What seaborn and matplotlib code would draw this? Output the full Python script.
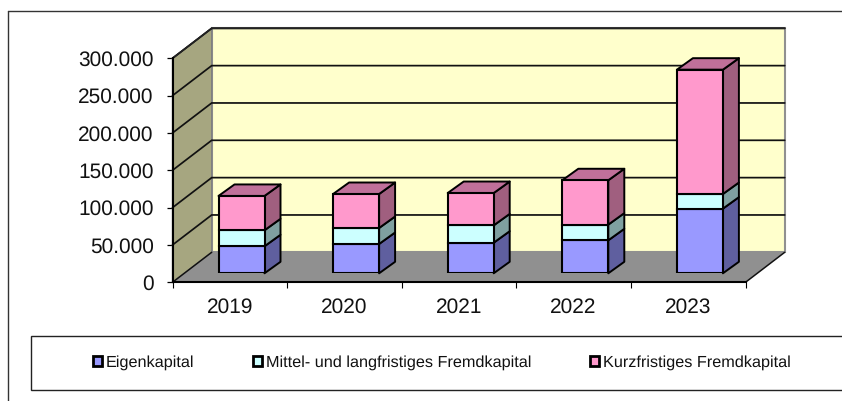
import matplotlib
matplotlib.use("Agg")
import matplotlib.pyplot as plt
from matplotlib.patches import Polygon, Rectangle
from matplotlib.lines import Line2D
from matplotlib.ticker import FuncFormatter
import seaborn as sns

years = ["2019", "2020", "2021", "2022", "2023"]
eigenkapital = [36200, 39300, 41000, 44200, 86600]
mittel_lang = [21400, 21400, 23200, 21000, 19600]
kurzfristig = [46000, 45500, 43300, 59400, 166500]
series_names = ["Eigenkapital", "Mittel- und langfristiges Fremdkapital", "Kurzfristiges Fremdkapital"]
y_ticks = [0, 50000, 100000, 150000, 200000, 250000, 300000]

W, H = 842, 401
sns.set_style("white")
plt.rcParams['font.family'] = ['Liberation Sans', 'DejaVu Sans']
plt.rcParams['text.hinting'] = 'no_hinting'

fig = plt.figure(figsize=(W / 100, H / 100), dpi=100, facecolor="white")

L, R, T, B = 172.5, 745.5, 58.3, 282.3
def rect(dx=0, dy=0):
    return [(L + dx) / W, 1 - (B - dy) / H, (R - L) / W, (B - T) / H]

ax = fig.add_axes(rect(), facecolor="none")
ax.set_xlim(-0.5, 4.5)
ax.set_ylim(0, 300000)
pxx = 1 / ((R - L) / 5)          # category units per pixel
pxy = 300000 / (B - T)           # value units per pixel
DX, DY = 39.2 * pxx, 30 * pxy    # depth of the chart box

x0, x1 = -0.5, 4.5
top = 300000
# walls
ax.add_patch(Polygon([(x0 + DX, DY), (x1 + DX, DY), (x1 + DX, top + DY), (x0 + DX, top + DY)],
                     closed=True, fc="#FFFFCC", ec="#909090", lw=1.5, clip_on=False, zorder=1))
ax.add_patch(Polygon([(x0, 0), (x0 + DX, DY), (x0 + DX, top + DY), (x0, top)],
                     closed=True, fc="#A6A680", ec="#808080", lw=1.0, clip_on=False, zorder=1))
ax.add_patch(Polygon([(x0, 0), (x1, 0), (x1 + DX, DY), (x0 + DX, DY)],
                     closed=True, fc="#909090", ec="none", clip_on=False, zorder=1))
# gridlines
for v in y_ticks:
    if v == 0:
        ax.plot([x0, x0 + DX], [0, DY], color="#111111", lw=1.1, clip_on=False, zorder=2)
        continue
    ax.plot([x0, x0 + DX, x1 + DX], [v, v + DY, v + DY], color="#111111", lw=1.25,
            clip_on=False, zorder=2, solid_joinstyle="miter")
ax.plot([x0, x0 + DX, x1 + DX], [top, top + DY, top + DY], color="#222222", lw=1.25,
        clip_on=False, zorder=2)
ax.plot([x1, x1 + DX], [0, DY], color="#111111", lw=1.1, clip_on=False, zorder=2)

sns.despine(ax=ax, top=True, right=True)
for s in ("left", "bottom"):
    ax.spines[s].set_linewidth(1.5)
    ax.spines[s].set_color("black")
    ax.spines[s].set_zorder(3)
ax.set_yticks(y_ticks)
ax.yaxis.set_major_formatter(FuncFormatter(lambda v, p: f"{int(v):,}".replace(",", ".")))
ax.set_xticks([-0.5, 0.5, 1.5, 2.5, 3.5, 4.5])
ax.set_xticklabels([])
ax.set_xticks(range(5), labels=years, minor=True)
ax.tick_params(axis="x", which="major", bottom=True, length=4.5, width=0.8, color="black")
ax.tick_params(axis="x", which="minor", bottom=False, length=0, pad=11, labelsize=15, labelcolor="#111111")
ax.tick_params(axis="y", left=True, length=4.5, width=0.9, color="black", pad=9, labelsize=15, labelcolor="#111111")

# bars live in an identical axes shifted into the chart's depth
bx = fig.add_axes(rect(11.7, 9.0), facecolor="none")
face_cols = ["#9999FF", "#CCFFFF", "#FF99CC"]
side_cols = ["#5F5F9F", "#7FA0A0", "#A05F7F"]
top_col = "#C0709A"
values = [eigenkapital, mittel_lang, kurzfristig]
bottoms = [0, 0, 0, 0, 0]
BW = 46 / ((R - L) / 5)
bdx, bdy = 16 * pxx, 11.5 * pxy
for vals, fc, sc, name in zip(values, face_cols, side_cols, series_names):
    sns.barplot(x=years, y=vals, bottom=bottoms, color=fc, saturation=1, width=BW,
                edgecolor="black", linewidth=1.5, ax=bx, label=name, zorder=5, legend=False)
    for i, (b, v) in enumerate(zip(bottoms, vals)):
        xr = i + BW / 2
        bx.add_patch(Polygon([(xr, b), (xr + bdx, b + bdy), (xr + bdx, b + v + bdy), (xr, b + v)],
                             closed=True, fc=sc, ec="black", lw=1.4, clip_on=False, zorder=4,
                             joinstyle="round"))
    bottoms = [b + v for b, v in zip(bottoms, vals)]
for i, t in enumerate(bottoms):
    xl, xr = i - BW / 2, i + BW / 2
    bx.add_patch(Polygon([(xl, t), (xr, t), (xr + bdx, t + bdy), (xl + bdx, t + bdy)],
                         closed=True, fc=top_col, ec="black", lw=1.4, clip_on=False, zorder=4,
                         joinstyle="round"))
bx.set_xlim(-0.5, 4.5)
bx.set_ylim(0, 300000)
bx.axis("off")

# outer frame
fig.add_artist(Line2D([7.5 / W, 7.5 / W], [1 - 11 / H, 0], color="#333333", lw=1.0))
fig.add_artist(Line2D([7.5 / W, 1], [1 - 11 / H, 1 - 11 / H], color="#333333", lw=1.0))
# legend box
fig.add_artist(Rectangle((31 / W, 1 - 390 / H), (W - 31 + 5) / W, 54 / H, transform=fig.transFigure,
                         fc="white", ec="#222222", lw=1.0))
handles = [Rectangle((0, 0), 1, 1, fc=c, ec="black", lw=2.0) for c in face_cols]
fig.legend(handles, series_names, ncol=3, frameon=False, fontsize=11.7,
           loc="center left", bbox_to_anchor=(93 / W, 1 - 363 / H),
           borderpad=0, borderaxespad=0, handlelength=0.55, handleheight=0.55,
           handletextpad=0.24, columnspacing=3.62, labelcolor="#111111")

fig.savefig("out.png", dpi=100)
